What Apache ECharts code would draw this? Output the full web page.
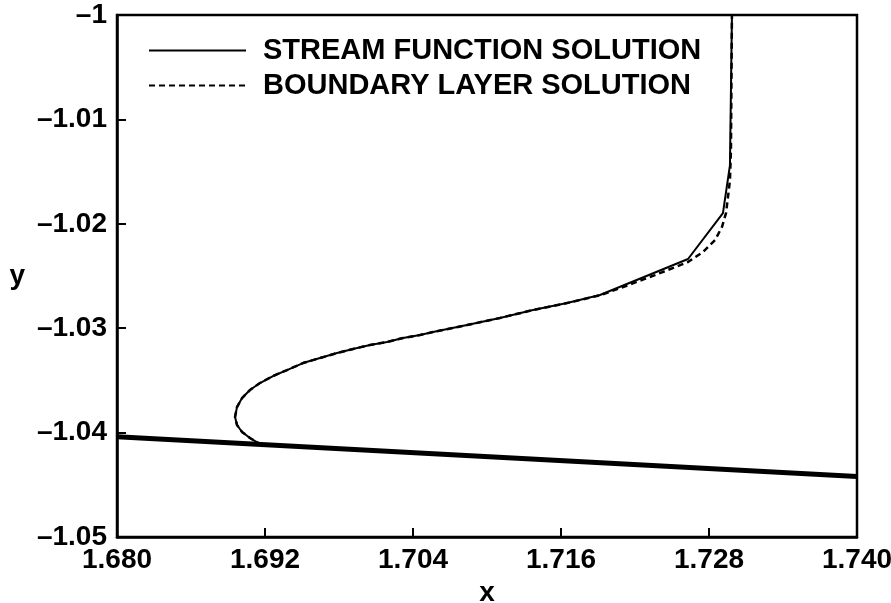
<!DOCTYPE html>
<html>
<head>
<meta charset="utf-8">
<title>Stream function vs boundary layer solution</title>
<script src="https://cdn.jsdelivr.net/npm/echarts@6/dist/echarts.min.js"></script>
<style>
  html, body { margin: 0; padding: 0; background: #fff; }
  #chart { width: 891px; height: 603px; }
</style>
</head>
<body>
<div id="chart"></div>
<script>
// Stream function solution (solid)
const streamX = [1.69176, 1.69078, 1.69014, 1.68973, 1.68957, 1.68973, 1.69014, 1.69078,
  1.69159, 1.69265, 1.69378, 1.69508, 1.69646, 1.69784, 1.69914, 1.70051, 1.70189,
  1.70319, 1.70457, 1.70562, 1.70838, 1.71105, 1.71373, 1.71649, 1.71916,
  1.72630, 1.72913, 1.72970, 1.72986];
const streamY = [-1.04119, -1.04052, -1.03994, -1.03927, -1.03851, -1.03755, -1.03669, -1.03592,
  -1.03525, -1.03458, -1.03401, -1.03334, -1.03286, -1.03238, -1.03199, -1.03161, -1.03132,
  -1.03094, -1.03065, -1.03037, -1.02970, -1.02902, -1.02826, -1.02759, -1.02682,
  -1.02337, -1.01897, -1.01437, -1.00000];

// Boundary layer solution (dashed)
const layerX = [1.69176, 1.69078, 1.69014, 1.68973, 1.68957, 1.68973, 1.69014, 1.69078,
  1.69159, 1.69265, 1.69378, 1.69508, 1.69646, 1.69784, 1.69914, 1.70051, 1.70189,
  1.70319, 1.70457, 1.70562, 1.70838, 1.71105, 1.71373, 1.71649, 1.71916,
  1.72103, 1.72362, 1.72630, 1.72751, 1.72849, 1.72905, 1.72938, 1.72954, 1.72970,
  1.72978, 1.72986];
const layerY = [-1.04119, -1.04052, -1.03994, -1.03927, -1.03851, -1.03755, -1.03669, -1.03592,
  -1.03525, -1.03458, -1.03401, -1.03334, -1.03286, -1.03238, -1.03199, -1.03161, -1.03132,
  -1.03094, -1.03065, -1.03037, -1.02970, -1.02902, -1.02826, -1.02759, -1.02685,
  -1.02606, -1.02491, -1.02366, -1.02270, -1.02155, -1.02031, -1.01897, -1.01743, -1.01581,
  -1.01293, -1.00000];

// Wall surface
const wallX = [1.680, 1.740];
const wallY = [-1.0404, -1.0442];

// Axis ticks
const xTicks = [1.680, 1.692, 1.704, 1.716, 1.728, 1.740];
const xTickLabels = ['1.680', '1.692', '1.704', '1.716', '1.728', '1.740'];
const yTicks = [-1.05, -1.04, -1.03, -1.02, -1.01, -1.00];
const yTickLabels = ['\u20131.05', '\u20131.04', '\u20131.03', '\u20131.02', '\u20131.01', '\u20131'];

const seriesNames = ['STREAM FUNCTION SOLUTION', 'BOUNDARY LAYER SOLUTION'];

function zip(xs, ys) { return xs.map((x, i) => [x, ys[i]]); }
function nearestLabel(v, ticks, labels) {
  let best = 0;
  ticks.forEach((t, i) => { if (Math.abs(t - v) < Math.abs(ticks[best] - v)) best = i; });
  return labels[best];
}

const FONT = '"Liberation Sans", Arial, Helvetica, sans-serif';
const chart = echarts.init(document.getElementById('chart'), null, { renderer: 'canvas' });

chart.setOption({
  backgroundColor: '#fff',
  animation: false,
  grid: {
    left: 117, right: 34, top: 15, bottom: 66,
    outerBoundsMode: 'none', containLabel: false,
    show: true, borderColor: '#000', borderWidth: 2.5, backgroundColor: 'transparent'
  },
  legend: {
    data: seriesNames,
    orient: 'vertical',
    left: 148, top: 36, padding: 0,
    itemWidth: 97, itemHeight: 14, itemGap: 6,
    itemStyle: { opacity: 0 },
    textStyle: {
      fontFamily: FONT, fontWeight: 'bold', fontSize: 29, color: '#000',
      lineHeight: 28, padding: [0, 0, 0, 12]
    }
  },
  xAxis: {
    type: 'value',
    min: xTicks[0], max: xTicks[xTicks.length - 1], interval: 0.012,
    name: 'x', nameLocation: 'middle', nameGap: 39,
    nameTextStyle: { fontFamily: FONT, fontWeight: 'bold', fontSize: 28, color: '#000' },
    axisLine: { show: true, lineStyle: { color: '#000', width: 2.5 } },
    axisTick: { show: true, inside: true, length: 9, lineStyle: { color: '#000', width: 2 } },
    splitLine: { show: false },
    axisLabel: {
      margin: 9, fontFamily: FONT, fontWeight: 'bold', fontSize: 28, color: '#000',
      formatter: v => nearestLabel(v, xTicks, xTickLabels)
    }
  },
  yAxis: {
    type: 'value',
    min: yTicks[0], max: yTicks[yTicks.length - 1], interval: 0.01,
    name: 'y', nameLocation: 'middle', nameGap: 92, nameRotate: 0,
    nameTextStyle: { fontFamily: FONT, fontWeight: 'bold', fontSize: 28, color: '#000' },
    axisLine: { show: true, lineStyle: { color: '#000', width: 2.5 } },
    axisTick: { show: true, inside: true, length: 9, lineStyle: { color: '#000', width: 2 } },
    splitLine: { show: false },
    axisLabel: {
      margin: 10, fontFamily: FONT, fontWeight: 'bold', fontSize: 28, color: '#000',
      formatter: v => nearestLabel(v, yTicks, yTickLabels)
    }
  },
  series: [
    {
      name: 'wall', type: 'line', data: zip(wallX, wallY),
      symbol: 'none', silent: true,
      lineStyle: { color: '#000', width: 5 }
    },
    {
      name: seriesNames[0], type: 'line', data: zip(streamX, streamY),
      symbol: 'none', smooth: false,
      color: '#000',
      lineStyle: { color: '#000', width: 2 }
    },
    {
      name: seriesNames[1], type: 'line', data: zip(layerX, layerY),
      symbol: 'none', smooth: false,
      color: '#000',
      lineStyle: { color: '#000', width: 2.5, type: [6, 4] }
    }
  ]
});
</script>
</body>
</html>
